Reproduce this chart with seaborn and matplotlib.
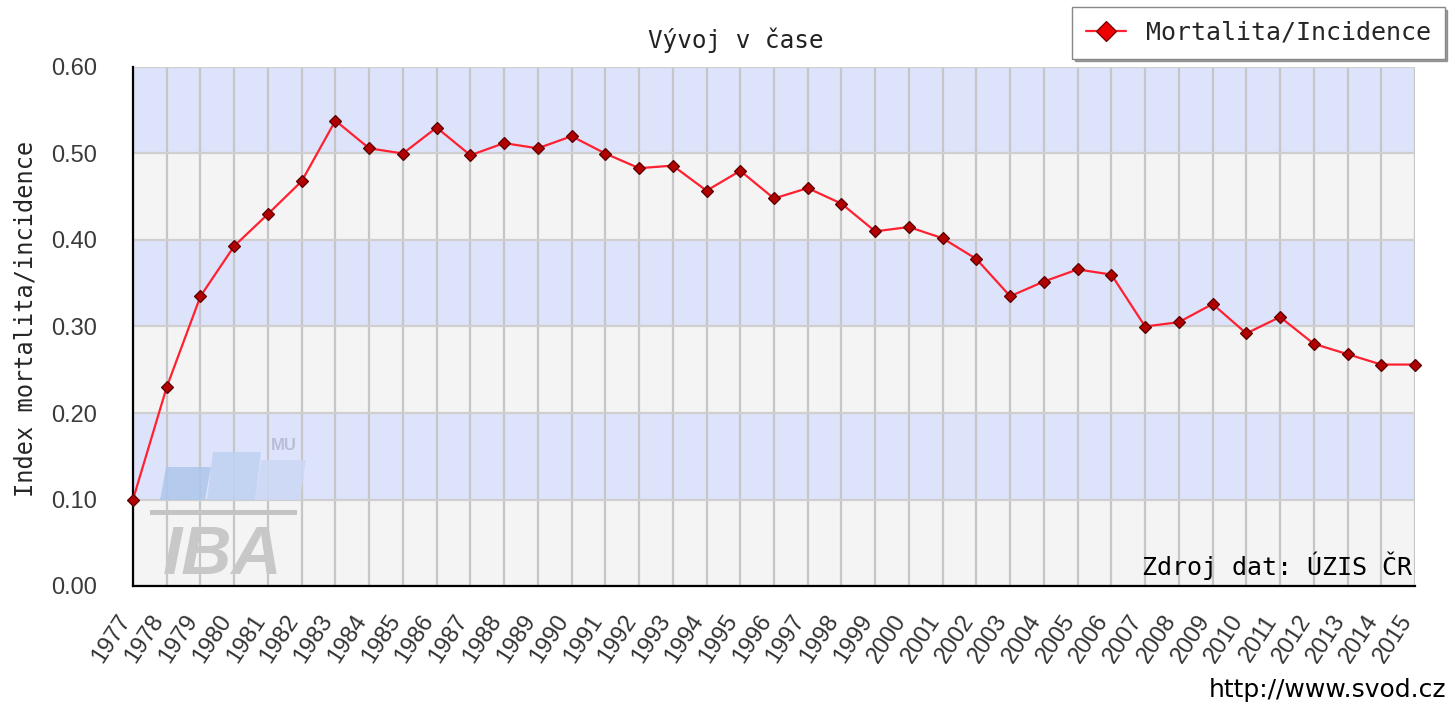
import numpy as np
import pandas as pd
import matplotlib
matplotlib.use("Agg")
import matplotlib.pyplot as plt
import matplotlib.transforms as mtransforms
import seaborn as sns
from matplotlib.patches import Polygon, Rectangle
from matplotlib.ticker import MultipleLocator, FormatStrFormatter

# Data
years = list(range(1977, 2016))
index_mi = [
    0.100, 0.230, 0.335, 0.393, 0.430, 0.468, 0.538, 0.506, 0.500, 0.530,
    0.498, 0.512, 0.506, 0.520, 0.500, 0.483, 0.486, 0.457, 0.480, 0.448,
    0.460, 0.442, 0.410, 0.415, 0.402, 0.378, 0.335, 0.352, 0.366, 0.360,
    0.300, 0.305, 0.326, 0.292, 0.311, 0.280, 0.268, 0.256, 0.256,
]
series_name = "Mortalita/Incidence"
subtitle = "Vývoj v čase"
y_label = "Index mortalita/incidence"
source_note = "Zdroj dat: ÚZIS ČR"
url_note = "http://www.svod.cz"

df = pd.DataFrame({"year": years, "value": index_mi})

sns.set_style("white")
MONO = ["DejaVu Sans Mono", "DejaVu Sans"]
SANS = ["Liberation Sans", "DejaVu Sans"]
plt.rcParams["font.family"] = SANS

W, H = 1453, 704
fig = plt.figure(figsize=(W / 100, H / 100), dpi=100)
L, R, T, B = 133, 1415, 67, 586
ax = fig.add_axes([L / W, 1 - B / H, (R - L) / W, (B - T) / H])

# alternating horizontal bands
blue_band, grey_band = "#dde3fb", "#f4f4f4"
for i, lo in enumerate(np.arange(0, 0.6, 0.1)):
    ax.axhspan(lo, lo + 0.1, color=grey_band if i % 2 == 0 else blue_band, zorder=0, lw=0)

ax.set_xlim(1977, 2015)
ax.set_ylim(0, 0.6)
ax.set_xticks(years)
ax.set_xticklabels([str(y) for y in years])
ax.yaxis.set_major_locator(MultipleLocator(0.1))
ax.yaxis.set_minor_locator(MultipleLocator(0.05))
ax.yaxis.set_major_formatter(FormatStrFormatter("%.2f"))

ax.grid(axis="x", color="#c6c6c6", lw=1.6, zorder=1)
ax.grid(axis="y", which="major", color="#cfcfcf", lw=1.6, zorder=1)
ax.set_axisbelow(True)

# logo watermark (decoration, in axes fraction)
def af(px, py):
    return ((px - L) / (R - L), (B - py) / (B - T))

for (x0, x1, top, col) in [(160, 205, 467, "#aec7ec"), (207, 255, 452, "#bfd1f1"), (255, 300, 460, "#ccd9f5")]:
    sl = 6
    pts = [af(x0, 500), af(x1, 500), af(x1 + sl, top), af(x0 + sl, top)]
    ax.add_patch(Polygon(pts, closed=True, transform=ax.transAxes, color=col, alpha=0.85, lw=0, zorder=1.5))
gx0, gy0 = af(150, 515)
gx1, gy1 = af(297, 510)
ax.add_patch(Rectangle((gx0, gy0), gx1 - gx0, gy1 - gy0, transform=ax.transAxes,
                       color="#c4c4c4", lw=0, zorder=1.5))
ix, iy = af(223, 574)
ax.text(ix, iy, "IBA", transform=ax.transAxes, ha="center", va="baseline",
        fontsize=50, fontweight="bold", style="italic", color="#c8c8c8", zorder=1.5,
        family=["Liberation Sans", "DejaVu Sans"])
mx, my = af(284, 450)
ax.text(mx, my, "MU", transform=ax.transAxes, ha="center", va="baseline",
        fontsize=12, fontweight="bold", color="#b9bdd6", zorder=1.5)

sns.lineplot(data=df, x="year", y="value", ax=ax, color="#ff2030", lw=1.6,
             marker="D", markersize=6.5, markerfacecolor="#b00000",
             markeredgecolor="#5a0000", markeredgewidth=0.9,
             label=series_name, legend=False, zorder=3, clip_on=False)

for s in ["top", "right"]:
    ax.spines[s].set_visible(False)
for s in ["left", "bottom"]:
    ax.spines[s].set_color("black")
    ax.spines[s].set_linewidth(1.6)

ax.tick_params(axis="y", which="major", direction="in", length=10, width=1.6,
               labelsize=17, colors="black", pad=26)
ax.tick_params(axis="y", which="minor", direction="in", length=6, width=1.6)
ax.tick_params(axis="x", which="major", direction="out", length=7, width=1.6,
               labelsize=17, pad=2)
shift = mtransforms.ScaledTranslation(-12 / 72, -9 / 72, fig.dpi_scale_trans)
for lab in ax.get_xticklabels():
    lab.set_rotation(57)
    lab.set_ha("right")
    lab.set_rotation_mode("anchor")
    lab.set_color("#333333")
    lab.set_transform(lab.get_transform() + shift)
for lab in ax.get_yticklabels():
    lab.set_color("#3a3a3a")

ax.set_xlabel("")
ax.set_ylabel(y_label, family=MONO, fontsize=17, labelpad=4)
ax.yaxis.set_label_coords((38 - L) / (R - L), (B - 319) / (B - T))

ax.text(0.998, 0.012, source_note, transform=ax.transAxes, ha="right", va="bottom",
        family=MONO, fontsize=18, color="black", zorder=4)

fig.text(736 / W, 1 - 40 / H, subtitle, ha="center", va="center",
         family=MONO, fontsize=17.5, color="#222222")
fig.text(1446 / W, 1 - 690 / H, url_note, ha="right", va="center",
         family=["DejaVu Sans"], fontsize=18, color="black")

handles, labels = ax.get_legend_handles_labels()
leg = fig.legend(handles, labels, loc="upper left",
                 bbox_to_anchor=(1072 / W, 1 - 7 / H), frameon=True, borderaxespad=0,
                 fancybox=False, shadow=True, prop={"family": MONO, "size": 18},
                 handlelength=1.6, borderpad=0.55, handletextpad=0.8)
leg.get_frame().set_edgecolor("#888888")
leg.get_frame().set_linewidth(1.0)
for line in leg.get_lines():
    line.set_markerfacecolor("#ee0000")
    line.set_markeredgecolor("#700000")
    line.set_markersize(10)

fig.savefig("out.png", dpi=100)
